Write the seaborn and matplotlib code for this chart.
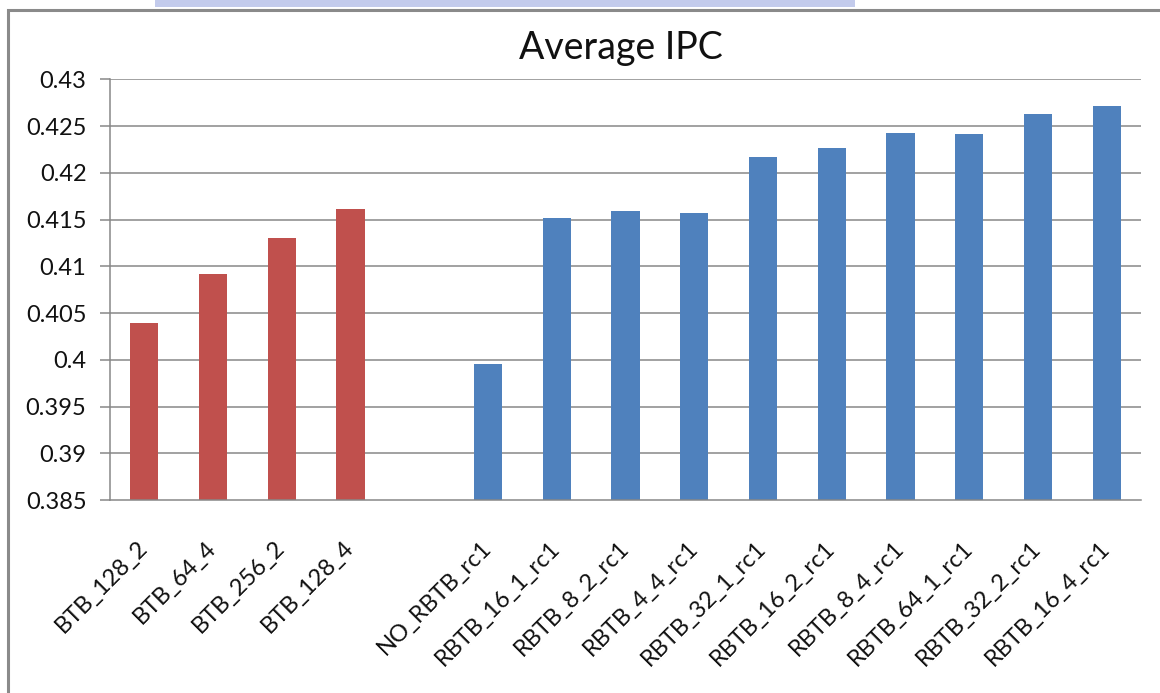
import matplotlib
matplotlib.use("Agg")
import matplotlib.pyplot as plt
import seaborn as sns
import pandas as pd
import numpy as np
from matplotlib.patches import Rectangle

categories = ["BTB_128_2", "BTB_64_4", "BTB_256_2", "BTB_128_4", " ",
              "NO_RBTB_rc1", "RBTB_16_1_rc1", "RBTB_8_2_rc1", "RBTB_4_4_rc1",
              "RBTB_32_1_rc1", "RBTB_16_2_rc1", "RBTB_8_4_rc1", "RBTB_64_1_rc1",
              "RBTB_32_2_rc1", "RBTB_16_4_rc1"]
values = [0.4039, 0.4092, 0.4130, 0.4161, np.nan,
          0.3995, 0.4152, 0.4159, 0.4157,
          0.4217, 0.4227, 0.4243, 0.4242,
          0.4263, 0.4271]
groups = ["BTB"] * 4 + ["none"] + ["RBTB"] * 10
yticks = [0.385, 0.39, 0.395, 0.4, 0.405, 0.41, 0.415, 0.42, 0.425, 0.43]
ytick_labels = ["0.385", "0.39", "0.395", "0.4", "0.405", "0.41", "0.415", "0.42", "0.425", "0.43"]

RED = "#C0504D"
BLUE = "#4F81BD"
GRID = "#878787"

sns.set_style("white")
plt.rcParams["font.family"] = ["Lato", "DejaVu Sans"]

df = pd.DataFrame({"cat": categories, "val": values, "grp": groups})

fig = plt.figure(figsize=(11.6, 6.93), dpi=100)
ax = fig.add_axes([110 / 1160, 1 - 500 / 693, (1141 - 110) / 1160, (500 - 79.3) / 693])

sns.barplot(data=df, x="cat", y="val", hue="grp", order=categories,
            palette={"BTB": RED, "none": BLUE, "RBTB": BLUE},
            dodge=False, width=0.41, legend=False, ax=ax, saturation=1,
            edgecolor="none")

ax.set_ylim(0.385, 0.43)
ax.set_xlim(-0.5, len(categories) - 0.5)
ax.set_yticks(yticks)
ax.set_yticklabels(ytick_labels, fontsize=17, color="#111111")
for y in yticks[1:]:
    ax.axhline(y, color=GRID, lw=1.1, zorder=0)

ax.set_xticks(np.arange(len(categories)))
ax.set_xticklabels(categories, rotation=45, ha="right", va="center",
                   rotation_mode="anchor", fontsize=17, color="#111111")
ax.set_xticks(np.arange(len(categories) + 1) - 0.5, minor=True)
ax.tick_params(axis="x", which="major", length=0, pad=32)
ax.tick_params(axis="x", which="minor", length=7, color=GRID, width=1.1, direction="out")
ax.tick_params(axis="y", which="major", length=7, color=GRID, width=1.1, pad=10, direction="out", left=True)
ax.set_xlabel("")
ax.set_ylabel("")
for s in ["top", "right"]:
    ax.spines[s].set_visible(False)
for s in ["left", "bottom"]:
    ax.spines[s].set_color(GRID)
    ax.spines[s].set_linewidth(1.1)

fig.text(621 / 1160, 1 - 48 / 693, "Average IPC", ha="center", va="center", fontsize=27, color="#111111")

# chart frame (screenshot border)
fig.patches.append(Rectangle((8 / 1160, -0.1), 1.2, 1 - 10 / 693 + 0.1, transform=fig.transFigure,
                             fill=False, edgecolor="#8a8a8a", lw=2.2))
fig.patches.append(Rectangle((155 / 1160, 1 - 7 / 693), (855 - 155) / 1160, 7 / 693,
                             transform=fig.transFigure, facecolor="#c3cbec", edgecolor="none"))

fig.savefig("out.png", dpi=100)
